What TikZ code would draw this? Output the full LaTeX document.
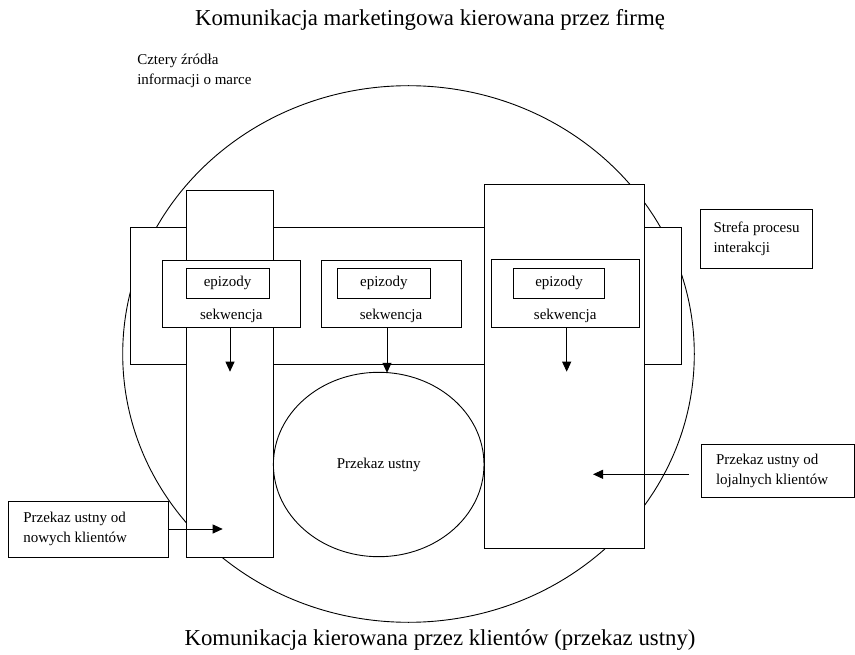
\documentclass[tikz,border=0pt]{standalone}
\usepackage{fontspec}
\setmainfont{Liberation Serif}
\usetikzlibrary{arrows.meta,shapes.geometric}
\begin{document}
\begin{tikzpicture}[x=1pt,y=-1pt,line width=0.9pt,
  box/.style={draw,fill=white,inner sep=0pt,outer sep=0pt,anchor=north west},
  lbl/.style={font=\fontsize{15}{20}\selectfont,inner sep=0pt,outer sep=0pt},
  note/.style={draw,fill=white,outer sep=0pt,anchor=west,align=left,
    inner sep=0pt,font=\fontsize{15}{20}\selectfont},
  notetext/.style={font=\fontsize{15}{20}\selectfont,inner sep=0pt,outer sep=0pt,
    anchor=west,align=left},
  titletext/.style={font=\fontsize{22.8}{27}\selectfont,inner sep=0pt,anchor=base},
  arr/.style={-{Triangle[length=10pt,width=9pt]}},
  oval/.style={draw,ellipse,inner sep=0pt,outer sep=0pt},
]
\useasboundingbox (0,0) rectangle (855,655);

% titles
\node[titletext] (top) at (430,26) {Komunikacja marketingowa kierowana przez firmę};
\node[titletext] (bottom) at (440,645) {Komunikacja kierowana przez klientów (przekaz ustny)};
\node[lbl,anchor=north west,align=left] (src) at (137.3,54.5) {Cztery źródła\\informacji o marce};

% big circle
\node[oval,minimum width=571.6pt,minimum height=536.6pt] (outer) at (408.5,354) {};

% interaction zone and tall columns
\node[box,minimum width=550.8pt,minimum height=137.3pt] (zone) at (130.7,227) {};
\node[box,minimum width=87.3pt,minimum height=366.6pt] (ltall) at (186.5,190.7) {};
\node[box,minimum width=160pt,minimum height=364pt] (rtall) at (484,184.7) {};

% middle oval
\node[oval,minimum width=210.6pt,minimum height=184.4pt,font=\fontsize{15}{20}\selectfont] (mid) at (378.7,464.5) {Przekaz ustny};

% sequence boxes
\node[box,minimum width=138.7pt,minimum height=67.5pt] (box1) at (162,260) {};
\node[box,minimum width=83pt,minimum height=30pt,anchor=north west,lbl] (ep1) at (186,268) {epizody};
\node[lbl,anchor=base] (sq1) at (231.3,320) {sekwencja};

\node[box,minimum width=140pt,minimum height=67.5pt] (box2) at (321,260) {};
\node[box,minimum width=92.3pt,minimum height=30pt,anchor=north west,lbl] (ep2) at (337.7,268) {epizody};
\node[lbl,anchor=base] (sq2) at (391,320) {sekwencja};

\node[box,minimum width=148.3pt,minimum height=67.8pt] (box3) at (491,259.5) {};
\node[box,minimum width=90.6pt,minimum height=30pt,anchor=north west,lbl] (ep3) at (513.7,268) {epizody};
\node[lbl,anchor=base] (sq3) at (565.2,320) {sekwencja};

% side notes (frame + text)
\node[box,minimum width=112pt,minimum height=59.3pt] (strefa) at (700,209) {};
\node[notetext] (strefaT) at ([xshift=13.5pt]strefa.west) {Strefa procesu\\interakcji};
\node[box,minimum width=153pt,minimum height=53.7pt] (lojal) at (701,444) {};
\node[notetext] (lojalT) at ([xshift=15pt]lojal.west) {Przekaz ustny od\\lojalnych klientów};
\node[box,minimum width=160pt,minimum height=56.3pt] (nowi) at (8.3,501) {};
\node[notetext] (nowiT) at ([xshift=15pt]nowi.west) {Przekaz ustny od\\nowych klientów};

% arrow ends
\coordinate (t1) at (230,371.7);
\coordinate (t2) at (387,372.8);
\coordinate (t3) at (566.7,371.7);
\coordinate (tl) at (593,474.3);
\coordinate (sl) at (689,474.3);
\coordinate (tn) at (222.7,529);

\draw[arr] (box1.south -| t1) -- (t1);
\draw[arr] (box2.south -| t2) -- (t2);
\draw[arr] (box3.south -| t3) -- (t3);
\draw[arr] (sl) -- (tl);
\draw[arr] (nowi.east |- tn) -- (tn);
\end{tikzpicture}
\end{document}
